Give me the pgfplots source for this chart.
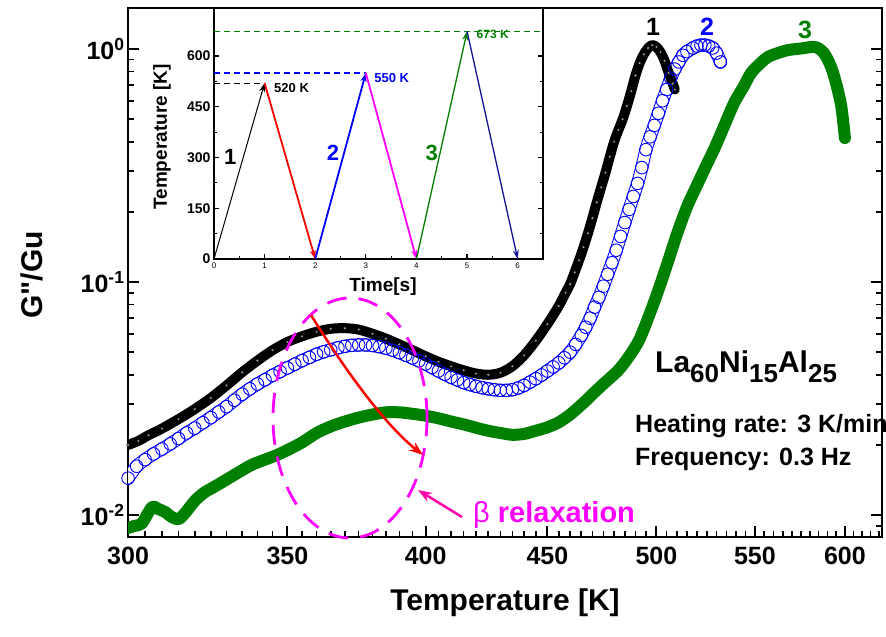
\documentclass[border=0pt]{standalone}
\usepackage{pgfplots}
\usepackage{pgfplotstable}
\pgfplotsset{compat=1.18}
\usepackage{fontspec}
\setmainfont{Liberation Sans}
\newfontfamily\rawfont{Liberation Sans}[Ligatures=ResetAll]
\usetikzlibrary{arrows.meta}
\definecolor{cgreen}{RGB}{0,128,0}
\definecolor{cblue}{RGB}{0,0,255}
\definecolor{cmag}{RGB}{255,0,255}
\definecolor{cpink}{RGB}{255,0,170}
\definecolor{cnavy}{RGB}{20,20,150}

% G''/Gu against temperature
\pgfplotstableread{
T G
300 0.0200
303 0.0208
306 0.0220
310 0.0235
315 0.0258
320 0.0285
325 0.0318
330 0.0360
335 0.0410
340 0.0460
345 0.0510
350 0.0553
355 0.0585
360 0.0612
365 0.0630
370 0.0634
375 0.0625
380 0.0600
385 0.0572
390 0.0540
395 0.0510
400 0.0480
405 0.0455
410 0.0435
415 0.0418
420 0.0405
425 0.0400
430 0.0408
435 0.0435
440 0.0485
445 0.0560
450 0.0660
455 0.0790
458 0.0900
460 0.0980
462 0.110
464 0.124
466 0.141
468 0.162
470 0.188
472 0.220
474 0.255
476 0.295
478 0.345
480 0.400
482 0.450
484 0.500
486 0.570
488 0.660
490 0.770
492 0.870
494 0.950
496 1.010
498 1.040
500 1.020
502 0.970
504 0.890
506 0.790
508 0.710
509 0.670
}\datablack

\pgfplotstableread{
T G
300 0.0144
302.5 0.0162
305 0.0173
307.5 0.0183
310 0.0192
312.5 0.0202
315 0.0213
317.5 0.0225
320 0.0236
322.5 0.0249
325 0.0262
327.5 0.0277
330 0.0292
332.5 0.0311
335 0.0330
337.5 0.0348
340 0.0365
342.5 0.0381
345 0.0398
347.5 0.0413
350 0.0428
352.5 0.0444
355 0.0460
357.5 0.0475
360 0.0490
362.5 0.0502
365 0.0512
367.5 0.0522
370 0.0530
372.5 0.0535
375 0.0537
377.5 0.0537
380 0.0534
382.5 0.0528
385 0.0520
387.5 0.0510
390 0.0498
392.5 0.0485
395 0.0472
397.5 0.0459
400 0.0445
402.5 0.0430
405 0.0415
407.5 0.0402
410 0.0390
412.5 0.0380
415 0.0370
417.5 0.0363
420 0.0357
422.5 0.0352
425 0.0348
427.5 0.0345
430 0.0343
432.5 0.0343
435 0.0345
437.5 0.0351
440 0.0360
442.5 0.0372
445 0.0385
447.5 0.0399
450 0.0415
452.5 0.0432
455 0.0450
457.5 0.0473
460 0.0500
462.5 0.0540
465 0.0590
467 0.0640
469 0.0700
471 0.0780
473 0.0860
475 0.0960
477 0.108
479 0.121
481 0.137
483 0.157
485 0.180
487 0.205
489 0.233
491 0.265
493 0.310
495 0.370
497 0.420
499 0.470
501 0.530
503 0.600
505 0.670
507 0.750
509 0.820
511 0.880
513 0.940
515 0.975
518 1.010
520 1.030
522 1.040
524 1.040
526 1.030
528 1.010
530 0.960
532 0.880
}\datablue

\pgfplotstableread{
T G
300 0.0088
302 0.0090
304 0.0092
307 0.0108
309 0.0106
311 0.0103
313 0.0098
315 0.0096
317 0.0102
320 0.0115
323 0.0125
326 0.0132
330 0.0142
334 0.0153
338 0.0164
342 0.0172
346 0.0180
350 0.0190
355 0.0205
360 0.0225
365 0.0240
370 0.0252
375 0.0262
380 0.0270
385 0.0276
390 0.0276
395 0.0272
400 0.0267
405 0.0260
410 0.0252
415 0.0245
420 0.0237
425 0.0230
430 0.0225
435 0.0221
440 0.0223
445 0.0230
450 0.0238
455 0.0250
460 0.0270
466 0.0303
470 0.0330
475 0.0365
482 0.0419
487 0.0480
492 0.0570
498 0.0780
502 0.0980
506 0.125
510 0.160
515 0.210
520 0.260
525 0.320
529 0.376
534 0.470
539 0.586
544 0.690
548 0.790
553 0.870
557 0.925
563 0.965
568 0.990
575 1.005
583 1.020
588 0.960
592 0.840
595 0.710
598 0.564
600 0.415
}\datagreen

\begin{document}
\begin{tikzpicture}
\useasboundingbox (-128pt,-100pt) rectangle (758pt,537pt);

\begin{axis}[
    at={(0pt,0pt)}, anchor=south west,
    width=754pt, height=529pt, scale only axis,
    xmode=log, ymode=log,
    xmin=300, xmax=622, ymin=0.00805, ymax=1.50,
    xtick={300,350,400,450,500,550,600},
    xticklabels={300,350,400,450,500,550,600},
    minor xtick={305,310,315,320,325,330,335,340,345,355,360,365,370,375,380,385,390,395,405,410,415,420,425,430,435,440,445,455,460,465,470,475,480,485,490,495,505,510,515,520,525,530,535,540,545,555,560,565,570,575,580,585,590,595,605,610,615,620},
    ytick={0.01,0.1,1},
    yticklabels={10\textsuperscript{-2},10\textsuperscript{-1},10\textsuperscript{0}},
    minor ytick={0.009,0.02,0.03,0.04,0.05,0.06,0.07,0.08,0.09,0.2,0.3,0.4,0.5,0.6,0.7,0.8,0.9},
    xtick pos=left, ytick pos=both, yticklabel pos=left,
    tick align=inside,
    axis line style={line width=2.5pt},
    major tick style={line width=2pt, black},
    minor tick style={line width=1.6pt, black},
    major tick length=11pt, minor tick length=6pt,
    tick label style={font=\fontsize{25}{25}\selectfont\bfseries},
    xticklabel style={yshift=-7pt},
    /pgf/number format/assume math mode=true,
]
\addplot[cblue, line width=13pt, smooth, line join=round, line cap=round] table {\datablue};
\addplot[white, line width=11pt, smooth, line join=round, line cap=round] table {\datablue};
\addplot[cblue, only marks, mark=o, mark size=6.3pt, mark options={line width=0.9pt}] table {\datablue};

\addplot[black, line width=10pt, smooth, line join=round, line cap=round] table {\datablack};
\addplot[only marks, mark=*, mark size=1.6pt, mark options={fill=gray!70, draw=none}] table {\datablack};

\addplot[cgreen, line width=12pt, smooth, line join=round, line cap=round] table {\datagreen};
\end{axis}

% inset: temperature programme
\begin{axis}[
    at={(86pt,278pt)}, anchor=south west,
    width=329pt, height=251pt, scale only axis,
    axis background/.style={fill=white},
    xmin=0, xmax=6.5, ymin=0, ymax=742,
    xtick={0,1,2,3,4,5,6}, minor x tick num=1,
    ytick={0,150,300,450,600}, minor y tick num=1,
    xtick pos=left, ytick pos=both, yticklabel pos=left,
    tick align=inside,
    major tick length=5pt, minor tick length=3pt,
    axis line style={line width=1.6pt},
    major tick style={line width=1.2pt, black},
    minor tick style={line width=1pt, black},
    xticklabel style={font=\fontsize{8}{8}\selectfont},
    yticklabel style={font=\fontsize{14}{14}\selectfont\bfseries},
    /pgf/number format/assume math mode=true,
    clip=false,
]
\addplot[black, dash pattern=on 6pt off 4pt, line width=0.8pt] coordinates {(0,520) (1,520)};
\addplot[cblue, dash pattern=on 6pt off 4pt, line width=1.5pt] coordinates {(0,550) (3,550)};
\addplot[cgreen, dash pattern=on 6pt off 4pt, line width=0.8pt] coordinates {(0,673) (6.5,673)};

\addplot[black, line width=1pt, -{Stealth[length=9pt,width=6pt]}] coordinates {(0,0) (1,520)};
\addplot[red, line width=1.8pt, -{Stealth[length=9pt,width=6pt]}] coordinates {(1,520) (2,0)};
\addplot[cblue, line width=1.8pt, -{Stealth[length=9pt,width=6pt]}] coordinates {(2,0) (3,550)};
\addplot[cmag, line width=1.8pt, -{Stealth[length=9pt,width=6pt]}] coordinates {(3,550) (4,0)};
\addplot[cgreen, line width=1.3pt, -{Stealth[length=9pt,width=6pt]}] coordinates {(4,0) (5,673)};
\addplot[cnavy, line width=1.3pt, -{Stealth[length=9pt,width=6pt]}] coordinates {(5,673) (6,0)};

\node[anchor=west, font=\fontsize{13}{13}\selectfont\bfseries] at (axis cs:1.12,506) {520 K};
\node[anchor=west, text=cblue, font=\fontsize{13}{13}\selectfont\bfseries] at (axis cs:3.1,535) {550 K};
\node[anchor=west, text=cgreen, font=\fontsize{12}{12}\selectfont\bfseries] at (axis cs:5.12,663) {673 K};
\node[font=\fontsize{22}{22}\selectfont\bfseries] at (axis cs:0.32,302) {1};
\node[text=cblue, font=\fontsize{22}{22}\selectfont\bfseries] at (axis cs:2.35,314) {2};
\node[text=cgreen, font=\fontsize{22}{22}\selectfont\bfseries] at (axis cs:4.30,314) {3};
\end{axis}

% axis titles
\node[font=\fontsize{30}{30}\selectfont\bfseries] at (377pt,-66pt) {Temperature [K]};
\node[rotate=90, font=\fontsize{30}{30}\selectfont\bfseries] at (-96pt,262pt) {G{\rawfont\bfseries"}/Gu};
\node[rotate=90, font=\fontsize{19}{19}\selectfont\bfseries] at (34pt,400pt) {Temperature [K]};
\node[font=\fontsize{19}{19}\selectfont\bfseries] at (255pt,250pt) {Time[s]};

% annotations
\node[font=\fontsize{25}{25}\selectfont\bfseries] at (525pt,510pt) {1};
\node[text=cblue, font=\fontsize{25}{25}\selectfont\bfseries] at (579pt,510pt) {2};
\node[text=cgreen, font=\fontsize{25}{25}\selectfont\bfseries] at (677pt,507pt) {3};
\node[anchor=base west, font=\fontsize{30}{30}\selectfont\bfseries, inner sep=0pt] at (527pt,164pt)
  {La\raisebox{-10pt}{\fontsize{26}{26}\selectfont 60}Ni\raisebox{-10pt}{\fontsize{26}{26}\selectfont 15}Al\raisebox{-10pt}{\fontsize{26}{26}\selectfont 25}};
\node[anchor=base west, font=\fontsize{25}{25}\selectfont\bfseries, inner sep=0pt] at (507pt,104pt) {Heating rate: 3 K/min};
\node[anchor=base west, font=\fontsize{25}{25}\selectfont\bfseries, inner sep=0pt] at (507pt,71pt) {Frequency: 0.3 Hz};

\draw[cmag, line width=2.8pt, dash pattern=on 20pt off 12pt] (222pt,119pt) ellipse [x radius=77pt, y radius=120pt];
\draw[red, line width=2.5pt, -{Stealth[length=14pt,width=10pt]}] (183pt,222pt) .. controls (217pt,167pt) and (257pt,112pt) .. (295pt,82pt);
\draw[cpink, line width=2.5pt, -{Stealth[length=14pt,width=10pt]}] (334pt,20pt) -- (290pt,47pt);
\node[anchor=base west, text=cmag, font=\fontsize{29}{29}\selectfont\bfseries, inner sep=0pt] at (345pt,15pt) {{\mdseries β} relaxation};
\end{tikzpicture}
\end{document}
